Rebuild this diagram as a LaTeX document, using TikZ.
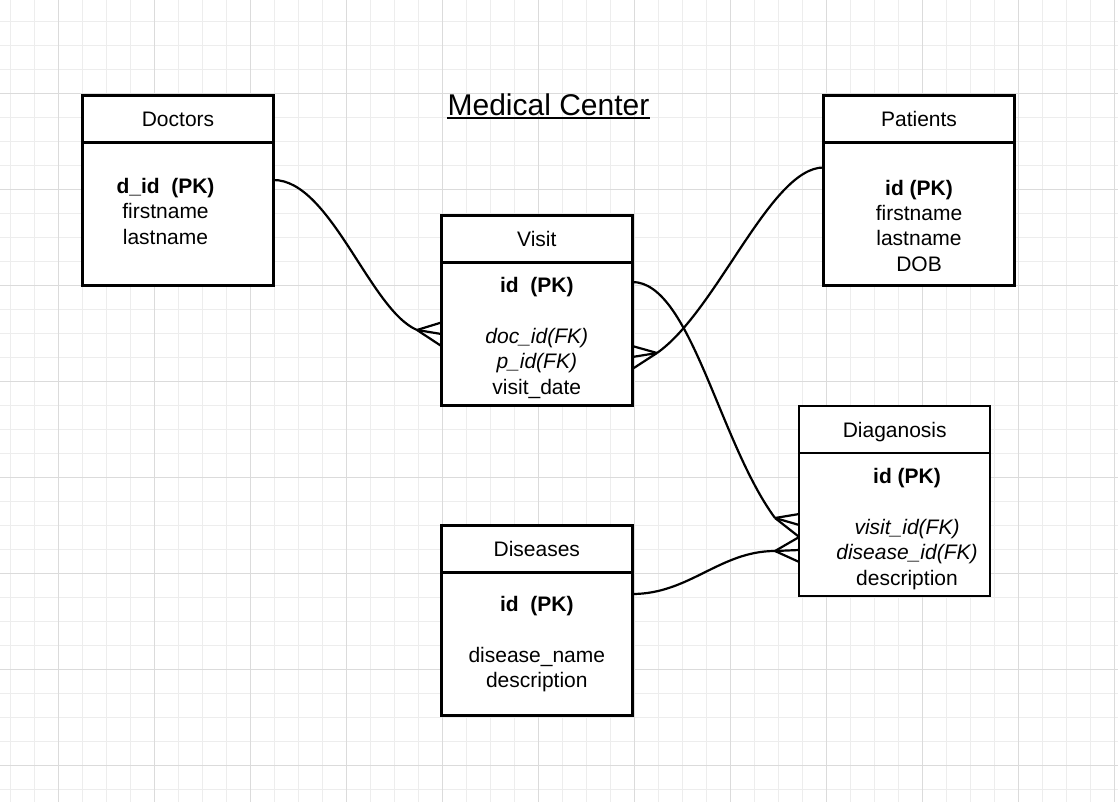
\documentclass[tikz,border=0pt]{standalone}
\usepackage{fontspec}
\setmainfont{Liberation Sans}
\usetikzlibrary{positioning}

\tikzset{
  entity/.style={draw, line width=2.5pt, fill=white, minimum width=191pt, outer sep=0pt, inner sep=0pt},
  hdr/.style={entity, minimum height=47pt, text height=15pt, text depth=0pt, font=\fontsize{21}{25.3}\selectfont},
  bodybox/.style={entity, minimum height=143pt},
  fields/.style={align=center, anchor=base, inner sep=0pt, font=\fontsize{21}{25.3}\selectfont},
  rel/.style={line width=2.2pt},
  gridminor/.style={draw=black!7, line width=1pt},
  gridmajor/.style={draw=black!14, line width=1pt}
}

\begin{document}
\begin{tikzpicture}[x=1pt, y=-1pt]

  % Background grid
  \fill[white] (0,0) rectangle (1118,802);
  \useasboundingbox (0,0) rectangle (1118,802);
  \foreach \gx in {10.7,34.7,...,1118} \draw[gridminor] (\gx,0) -- (\gx,802);
  \foreach \gy in {21.5,45.5,...,802} \draw[gridminor] (0,\gy) -- (1118,\gy);
  \foreach \gx in {58.7,154.7,...,1118} \draw[gridmajor] (\gx,0) -- (\gx,802);
  \foreach \gy in {93.5,189.5,...,802} \draw[gridmajor] (0,\gy) -- (1118,\gy);

  % Title
  \node[font=\fontsize{30}{36}\selectfont, inner sep=0pt, anchor=base] (title) at (548.5,116) {Medical Center};
  \draw[line width=1.8pt] ([yshift=-1.8pt]title.base west) -- ([yshift=-1.8pt]title.base east);

  % Doctors (fields anchored on their last line)
  \node[hdr] (doc) at (178,118.8) {Doctors};
  \node[bodybox, below=0pt of doc] (docb) {};
  \node[fields] (docf) at (165.5,244) {\textbf{d\_id\ \ (PK)}\\firstname\\lastname};

  % Patients
  \node[hdr] (pat) at (919,118.8) {Patients};
  \node[bodybox, below=0pt of pat] (patb) {};
  \node[fields] (patf) at (919,271) {\textbf{id (PK)}\\firstname\\lastname\\DOB};

  % Visit
  \node[hdr] (vis) at (536.8,239) {Visit};
  \node[bodybox, below=0pt of vis] (visb) {};
  \node[fields] (visf) at (536.8,394) {\textbf{id\ \ (PK)}\\[25.3pt]\textit{doc\_id(FK)}\\\textit{p\_id(FK)}\\visit\_date};

  % Diaganosis
  \node[hdr] (dia) at (894.7,429.7) {Diaganosis};
  \node[bodybox, below=0pt of dia] (diab) {};
  \node[fields] (diaf) at (907,585) {\textbf{id (PK)}\\[25.3pt]\textit{visit\_id(FK)}\\\textit{disease\_id(FK)}\\description};

  % Diseases
  \node[hdr] (dis) at (536.8,548.8) {Diseases};
  \node[bodybox, below=0pt of dis] (disb) {};
  \node[fields] (disf) at (536.8,687.3) {\textbf{id\ \ (PK)}\\[25.3pt]disease\_name\\description};

  % Doctors -- Visit
  \coordinate (f1) at (417,330);
  \draw[rel] (docb.east |- 0,180) .. controls +(57,0) and +(-47,-20) .. (f1);
  \foreach \py in {322.5,334,346} \draw[rel] (f1) -- (visb.west |- 0,\py);

  % Patients -- Visit
  \coordinate (f2) at (657,353);
  \draw[rel] (patb.west |- 0,167.5) .. controls +(-53,0) and +(60,-42) .. (f2);
  \foreach \py in {346,357,369} \draw[rel] (f2) -- (visb.east |- 0,\py);

  % Visit -- Diaganosis
  \coordinate (f3) at (775,518);
  \draw[rel] (visb.east |- 0,282) .. controls +(58,0) and +(-56,-76) .. (f3);
  \foreach \py in {514,525,537} \draw[rel] (f3) -- (diab.west |- 0,\py);

  % Diseases -- Diaganosis
  \coordinate (f4) at (775,551);
  \draw[rel] (disb.east |- 0,594) .. controls +(57,0) and +(-55,0) .. (f4);
  \foreach \py in {537,550,562} \draw[rel] (f4) -- (diab.west |- 0,\py);

\end{tikzpicture}
\end{document}
